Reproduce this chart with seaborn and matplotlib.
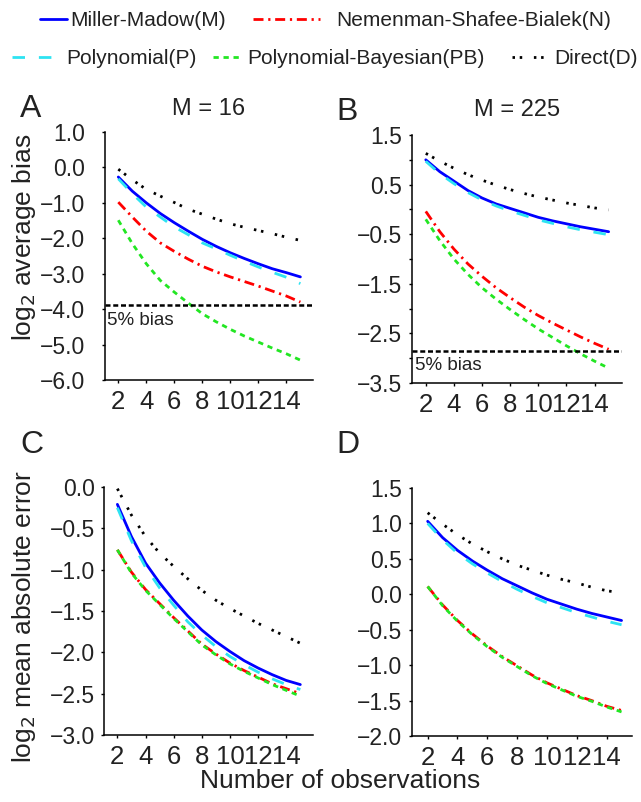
import pandas as pd
import seaborn as sns
import matplotlib.pyplot as plt
import numpy as np

# number of observations (x axis)
n_obs = list(range(2, 16))
methods = ["Miller-Madow(M)", "Nemenman-Shafee-Bialek(N)", "Polynomial(P)",
           "Polynomial-Bayesian(PB)", "Direct(D)"]

# A: log2 average bias, M = 16
biasA_M = [-0.27, -0.67, -1.00, -1.30, -1.56, -1.80, -2.03, -2.23, -2.41, -2.57, -2.72, -2.86, -2.97, -3.09]
biasA_N = [-0.98, -1.40, -1.80, -2.13, -2.37, -2.59, -2.79, -2.95, -3.09, -3.22, -3.35, -3.49, -3.63, -3.80]
biasA_P = [-0.32, -0.74, -1.12, -1.40, -1.68, -1.90, -2.13, -2.30, -2.48, -2.65, -2.81, -2.96, -3.10, -3.28]
biasA_PB = [-1.49, -2.15, -2.72, -3.19, -3.52, -3.83, -4.13, -4.36, -4.57, -4.76, -4.93, -5.10, -5.26, -5.44]
biasA_D = [-0.05, -0.35, -0.62, -0.81, -0.99, -1.18, -1.32, -1.46, -1.59, -1.69, -1.78, -1.87, -1.97, -2.06]

# B: log2 average bias, M = 225
biasB_M = [1.00, 0.76, 0.57, 0.38, 0.23, 0.11, 0.02, -0.07, -0.16, -0.23, -0.29, -0.35, -0.40, -0.45]
biasB_N = [-0.04, -0.45, -0.80, -1.10, -1.35, -1.58, -1.78, -1.97, -2.14, -2.29, -2.43, -2.57, -2.70, -2.82]
biasB_P = [0.97, 0.72, 0.52, 0.34, 0.19, 0.07, -0.03, -0.12, -0.21, -0.28, -0.35, -0.41, -0.46, -0.51]
biasB_PB = [-0.20, -0.63, -1.00, -1.31, -1.58, -1.81, -2.02, -2.22, -2.41, -2.58, -2.75, -2.91, -3.06, -3.20]
biasB_D = [1.13, 0.97, 0.83, 0.70, 0.59, 0.49, 0.40, 0.32, 0.25, 0.19, 0.13, 0.08, 0.03, -0.01]

# C: log2 mean absolute error, M = 16
errC_M = [-0.21, -0.60, -0.92, -1.16, -1.37, -1.56, -1.73, -1.87, -1.99, -2.10, -2.19, -2.27, -2.34, -2.39]
errC_N = [-0.76, -1.03, -1.24, -1.41, -1.58, -1.74, -1.90, -2.02, -2.13, -2.22, -2.30, -2.38, -2.44, -2.50]
errC_P = [-0.25, -0.65, -0.97, -1.22, -1.43, -1.63, -1.79, -1.93, -2.05, -2.15, -2.24, -2.32, -2.39, -2.45]
errC_PB = [-0.76, -1.04, -1.25, -1.42, -1.59, -1.75, -1.91, -2.03, -2.14, -2.23, -2.31, -2.39, -2.46, -2.53]
errC_D = [-0.02, -0.34, -0.60, -0.80, -0.96, -1.11, -1.25, -1.37, -1.47, -1.56, -1.65, -1.73, -1.81, -1.89]

# D: log2 mean absolute error, M = 225
errD_M = [1.03, 0.80, 0.62, 0.47, 0.34, 0.22, 0.12, 0.02, -0.07, -0.14, -0.21, -0.27, -0.32, -0.37]
errD_N = [0.11, -0.15, -0.37, -0.56, -0.73, -0.88, -1.01, -1.14, -1.25, -1.34, -1.43, -1.50, -1.58, -1.64]
errD_P = [1.00, 0.77, 0.58, 0.43, 0.30, 0.18, 0.07, -0.03, -0.12, -0.19, -0.26, -0.32, -0.38, -0.43]
errD_PB = [0.11, -0.16, -0.38, -0.57, -0.74, -0.89, -1.02, -1.15, -1.26, -1.35, -1.44, -1.51, -1.59, -1.66]
errD_D = [1.15, 0.99, 0.84, 0.71, 0.60, 0.50, 0.41, 0.34, 0.27, 0.21, 0.16, 0.10, 0.05, 0.02]

bias5_A = -3.89
bias5_B = -2.86


def to_long(series):
    rows = []
    for m, vals in zip(methods, series):
        for n, v in zip(n_obs, vals):
            rows.append({"n": n, "value": v, "method": m})
    return pd.DataFrame(rows)


sns.set_style("ticks")
plt.rcParams['font.family'] = ['Liberation Sans', 'DejaVu Sans']
plt.rcParams['axes.unicode_minus'] = True

palette = dict(zip(methods, ["#0000FF", "#FF0000", "#2EE3F2", "#22E622", "#000000"]))
dashes = dict(zip(methods, ["", (3.6, 1.7, 0.8, 1.7), (4.5, 5.0), (1.9, 1.7), (0.9, 1.7, 0.9, 4.2)]))

fig = plt.figure(figsize=(6.41, 8.02), dpi=100)
W, H = 641, 802


def add_ax(l, t, r, b):
    return fig.add_axes([l / W, 1 - b / H, (r - l) / W, (b - t) / H])


axA = add_ax(105, 132, 313, 380)
axB = add_ax(412, 135, 622, 383)
axC = add_ax(104, 487, 313, 735)
axD = add_ax(412, 488, 632, 736)

panels = [
    (axA, [biasA_M, biasA_N, biasA_P, biasA_PB, biasA_D], (-6, 1), np.arange(-6, 1.01, 1.0), 1.0, (1.05, 15.9), 12),
    (axB, [biasB_M, biasB_N, biasB_P, biasB_PB, biasB_D], (-3.5, 1.5), np.arange(-3.5, 1.51, 0.5), 1.0, (1.02, 15.95), 4.5),
    (axC, [errC_M, errC_N, errC_P, errC_PB, errC_D], (-3, 0), np.arange(-3, 0.01, 0.5), 0.5, (1.05, 15.9), 4),
    (axD, [errD_M, errD_N, errD_P, errD_PB, errD_D], (-2, 1.5), np.arange(-2, 1.51, 0.5), 0.5, (0.95, 15.7), 4.5),
]

for ax, series, ylim, yticks, lab_step, xlim, ypad in panels:
    df = to_long(series)
    sns.lineplot(data=df, x="n", y="value", hue="method", style="method",
                 hue_order=methods, style_order=methods, palette=palette,
                 dashes=dashes, lw=2.0, legend=False, ax=ax)
    ax.set_ylim(*ylim)
    ax.set_xlim(*xlim)
    ax.set_xticks(range(2, 15, 2))
    ax.set_yticks(yticks)
    labels = []
    for v in yticks:
        k = (v - ylim[0]) / lab_step
        if abs(k - round(k)) < 1e-6:
            labels.append(f"{v:.1f}".replace("-", "\u2212"))
        else:
            labels.append("")
    ax.set_yticklabels(labels)
    ax.set_xlabel("")
    ax.set_ylabel("")
    sns.despine(ax=ax)
    for s in ["left", "bottom"]:
        ax.spines[s].set_linewidth(1.1)
        ax.spines[s].set_color("black")
    ax.tick_params(direction="out", length=2.5, width=1.0,
                   labelcolor="#222222", colors="black")
    ax.tick_params(axis="y", pad=ypad, labelsize=16.5)
    ax.tick_params(axis="x", pad=4.5, labelsize=18.5)

# legend handles taken from panel A lines
handles = axA.get_lines()[:5]
leg_pos = [(40, 21, 1.3, 0.15), (253, 21, 3.2, 0.8), (12, 59, 2.3, 0.3),
           (213, 59, 1.3, 0.33), (512, 59, 1.8, 0.25)]
for h, m, (lx, ly, hl, tp) in zip(handles, methods, leg_pos):
    fig.legend(handles=[h], labels=[m], loc="center left",
               bbox_to_anchor=(lx / W, 1 - ly / H), frameon=False,
               handlelength=hl, handletextpad=tp, borderpad=0,
               borderaxespad=0, fontsize=15, labelcolor="#222222")

# 5% bias reference lines
for ax, y0, (tx, ty) in [(axA, bias5_A, (107, 325)), (axB, bias5_B, (415, 370))]:
    ax.axhline(y0, color="black", lw=1.8, dashes=(2.0, 1.1))
    fig.text(tx / W, 1 - ty / H, "5% bias", fontsize=13.5, color="#222222",
             ha="left", va="baseline")

# titles and panel letters
axA.set_title("M = 16", fontsize=17, pad=12, color="#222222")
axB.set_title("M = 225", fontsize=17, pad=14, color="#222222")
for letter, (lx, ly) in zip("ABCD", [(20, 117), (336, 120), (20, 453), (336, 453)]):
    fig.text(lx / W, 1 - ly / H, letter, fontsize=23, color="#222222",
             ha="left", va="baseline")

fig.text(24 / W, 1 - 237 / H, "log$_2$ average bias", rotation=90,
         fontsize=19, color="#222222", ha="center", va="center")
fig.text(24 / W, 1 - 617 / H, "log$_2$ mean absolute error", rotation=90,
         fontsize=19, color="#222222", ha="center", va="center")
fig.text(340 / W, 1 - 781 / H, "Number of observations", fontsize=19,
         color="#222222", ha="center", va="center")

fig.savefig("out.png", dpi=100)
